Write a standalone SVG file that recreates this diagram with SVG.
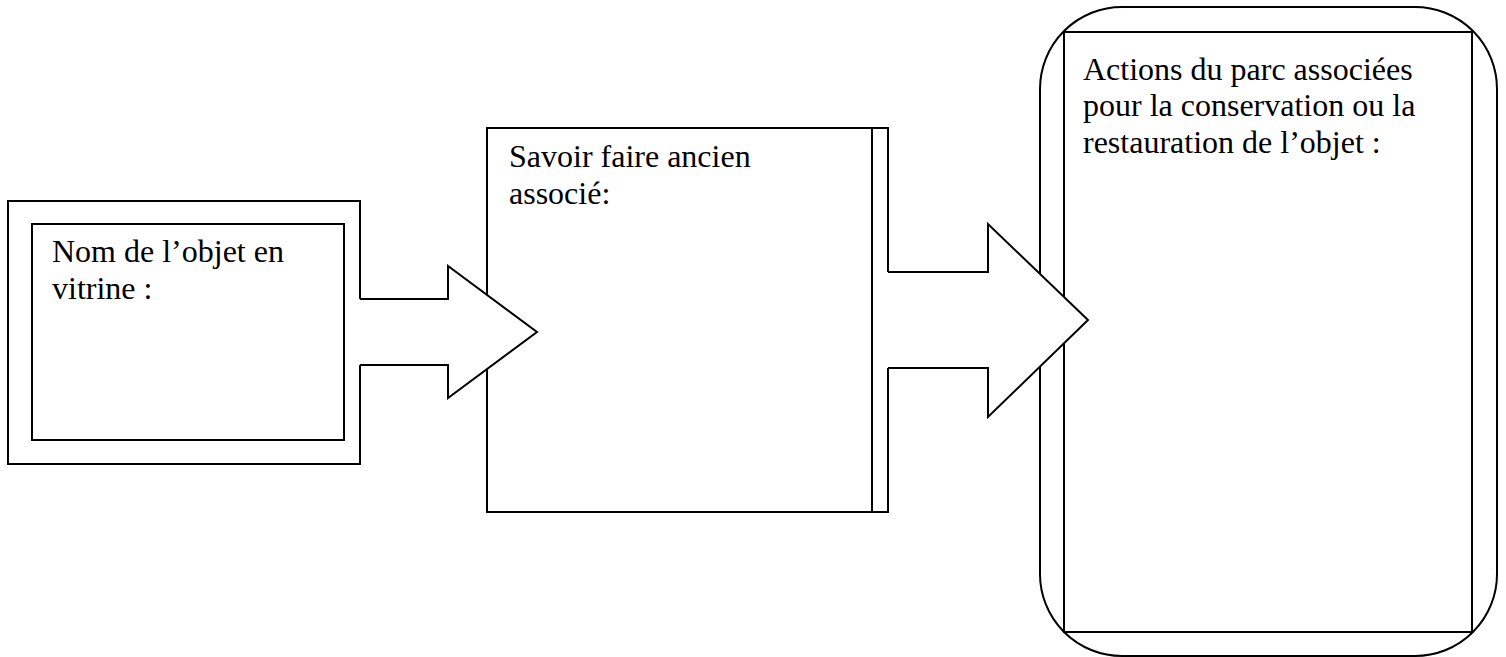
<svg xmlns="http://www.w3.org/2000/svg" width="1506" height="657" viewBox="0 0 1506 657">
<style>
.s{fill:#fff;stroke:#000;stroke-width:2}
.n{fill:none;stroke:#000;stroke-width:2}
.w{fill:#fff;stroke:none}
.t{font-family:"Liberation Serif","Times New Roman",serif;font-size:32px;fill:#000}
</style>
<rect width="1506" height="657" fill="#fff"/>
<g id="node-nom">
<rect class="s" x="8" y="201" width="352" height="263"/>
<rect class="s" x="32" y="224" width="312" height="216"/>
<text class="t" x="52" y="262">Nom de l’objet en</text>
<text class="t" x="52" y="299">vitrine :</text>
</g>
<g id="node-savoir">
<rect class="s" x="487" y="128" width="401" height="384"/>
<line class="n" x1="872" y1="128" x2="872" y2="512"/>
<text class="t" x="509" y="167">Savoir faire ancien</text>
<text class="t" x="509" y="204">associé:</text>
</g>
<g id="node-actions">
<rect class="s" x="1040" y="7" width="457" height="649" rx="82" ry="82"/>
<rect class="n" x="1064" y="32" width="408" height="600"/>
<text class="t" x="1083" y="80">Actions du parc associées</text>
<text class="t" x="1083" y="116">pour la conservation ou la</text>
<text class="t" x="1083" y="153">restauration de l’objet :</text>
</g>
<g id="connectors">
<g id="arrow-1">
<polygon class="w" points="358,299 448,299 448,266 537,332 448,398 448,365 358,365"/>
<polyline class="n" points="360,299 448,299 448,266 537,332 448,398 448,365 360,365"/>
</g>
<g id="arrow-2">
<polygon class="w" points="886,272 988,272 988,224 1088,320 988,417 988,368 886,368"/>
<polyline class="n" points="888,272 988,272 988,224 1088,320 988,417 988,368 888,368"/>
</g>
</g>
</svg>
